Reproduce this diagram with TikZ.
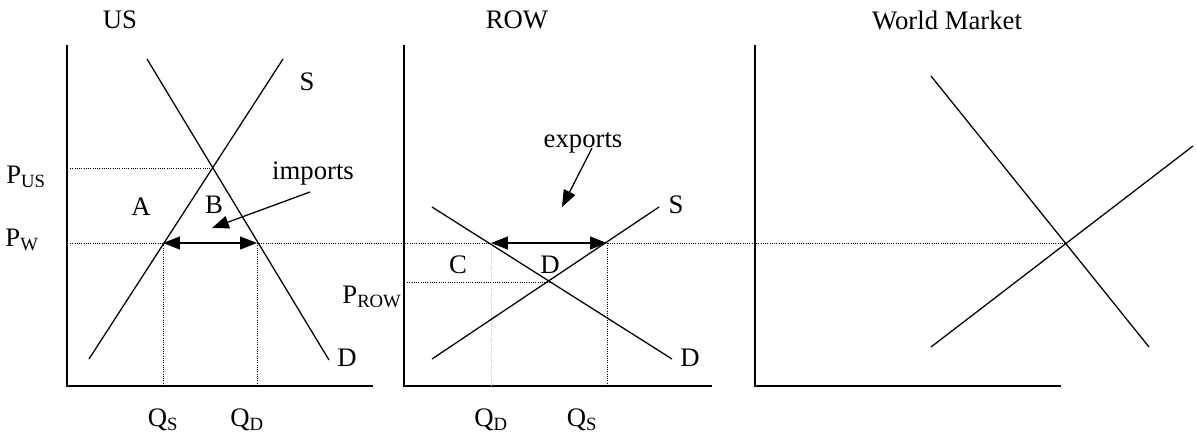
\documentclass[tikz,border=0pt]{standalone}
\usepackage{fontspec}
\setmainfont{Liberation Serif}
\usetikzlibrary{arrows.meta}

\begin{document}
\begin{tikzpicture}[x=0.025cm, y=-0.025cm, every node/.style={font=\fontsize{19}{22}\selectfont, inner sep=1pt}, >={Triangle[length=4.2mm, width=3.2mm]}, axis/.style={line width=1.2pt}, curve/.style={line width=0.9pt}, guide/.style={dash pattern=on 0.7pt off 0.9pt, line width=0.7pt}, pointer/.style={->, line width=0.9pt}]
	\useasboundingbox (0,0) rectangle (1196,436);
	% US
	\draw[axis] (67,45) -- (67,386) -- (373,386);
	\coordinate (us eq) at (213,168);
	\coordinate (us qs) at (163,243);
	\coordinate (us qd) at (257,243);
	\draw[curve] (147,59) -- (329,360);
	\draw[curve] (89,359) -- (283,59);
	\draw[guide] (70,168) -- (us eq);
	\draw[guide] (70,243) -- (1065,243);
	\draw[guide] (us qs) -- (163,386);
	\draw[guide] (us qd) -- (257,386);
	\draw[<->, line width=0.9pt] (us qs) -- (us qd);
	\node (us) at (120,20) {US};
	\node (us s) at (307,82) {S};
	\node (us d) at (347,358) {D};
	\node (pus) at (26,177) {P\textsubscript{US}};
	\node (pw) at (22,240) {P\textsubscript{W}};
	\node (a) at (141,207) {A};
	\node (b) at (214,205) {B};
	\node (imports) at (313,173) {imports};
	\coordinate (imp tip) at (212,228);
	\draw[pointer] (310,192) -- (imp tip);
	\node (us qsl) at (163,420) {Q\textsubscript{S}};
	\node (us qdl) at (247,420) {Q\textsubscript{D}};
	% ROW
	\draw[axis] (404,45) -- (404,386) -- (712,386);
	\coordinate (row eq) at (549,282);
	\coordinate (row qd) at (491,243);
	\coordinate (row qs) at (607,243);
	\draw[curve] (432,207) -- (672,359);
	\draw[curve] (432,359) -- (659,207);
	\draw[guide] (407,282) -- (row eq);
	\draw[guide, gray!45] (row qd) -- (491,386);
	\draw[guide] (row qs) -- (607,386);
	\draw[<->, line width=0.9pt] (row qd) -- (row qs);
	\node (row) at (517,20) {ROW};
	\node (row s) at (676,205) {S};
	\node (row d) at (690,358) {D};
	\node (c) at (458,265) {C};
	\node (dl) at (550,265) {D};
	\node (exports) at (583,143) {exports};
	\coordinate (exp tip) at (562,207);
	\draw[pointer] (592,148) -- (exp tip);
	\node (prow) at (372,297) {P\textsubscript{ROW}};
	\node (row qdl) at (491,420) {Q\textsubscript{D}};
	\node (row qsl) at (582,420) {Q\textsubscript{S}};
	% World Market
	\draw[axis] (755,45) -- (755,386) -- (1061,386);
	\draw[curve] (931,76) -- (1149,347);
	\draw[curve] (931,347) -- (1193,146);
	\node (world) at (947,20) {World Market};
\end{tikzpicture}
\end{document}
